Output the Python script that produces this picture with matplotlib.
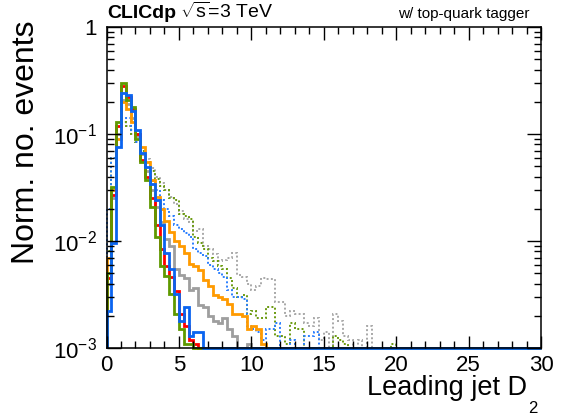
import numpy as np
import matplotlib
matplotlib.use("Agg")
import matplotlib.pyplot as plt
from matplotlib.ticker import MultipleLocator, FixedLocator, FixedFormatter, LogLocator, NullFormatter

plt.rcParams['font.family'] = ['Liberation Sans', 'DejaVu Sans']
plt.rcParams['mathtext.fontset'] = 'custom'
plt.rcParams['mathtext.rm'] = 'Liberation Sans'
plt.rcParams['mathtext.it'] = 'Liberation Sans:italic'

# histogram binning: 90 bins of 1/3 from 0 to 30
n_bins = 90
x_lo, x_hi = 0, 30

# normalised bin contents (first bins only, rest empty)
red_solid = [0.0045, 0.027, 0.12, 0.28, 0.22, 0.17, 0.10, 0.057, 0.040, 0.025,
             0.014, 0.0085, 0.0058, 0.0046, 0.0034, 0.0021, 0.0016, 0.0012, 0.0011]
green_solid = [0.005, 0.032, 0.13, 0.30, 0.21, 0.18, 0.09, 0.055, 0.037, 0.021,
               0.011, 0.0058, 0.0047, 0.0032, 0.0021, 0.0015, 0.0011, 0.0011]
blue_solid = [0.0022, 0.0095, 0.075, 0.24, 0.23, 0.165, 0.11, 0.066, 0.049, 0.034,
              0.024, 0.014, 0.0078, 0.0055, 0.0032, 0.0018, 0.0024, 0.0013, 0.0014, 0.0014]
orange_solid = [0.007, 0.03, 0.09, 0.20, 0.17, 0.13, 0.10, 0.075, 0.055, 0.037,
                0.026, 0.020, 0.0155, 0.0122, 0.010, 0.009, 0.0078, 0.0061, 0.0058, 0.0054,
                0.0043, 0.0038, 0.0031, 0.0030, 0.0029, 0.0026, 0.0021, 0.0021, 0.0020, 0.0015,
                0.0016, 0.0015, 0.0011]
gray_solid = [0.004, 0.025, 0.10, 0.21, 0.19, 0.14, 0.095, 0.065, 0.045, 0.030,
              0.021, 0.015, 0.0105, 0.009, 0.0055, 0.0048, 0.0045, 0.0035, 0.0036, 0.0025,
              0.0024, 0.0020, 0.0018, 0.0017, 0.0019, 0.0015, 0.0013, 0, 0, 0.0011]
blue_dotted = [0.020, 0.060, 0.11, 0.14, 0.14, 0.11, 0.085, 0.065, 0.045, 0.036,
               0.030, 0.024, 0.020, 0.017, 0.014, 0.013, 0.012, 0.011, 0.0085, 0.0078,
               0.0072, 0.0060, 0.0055, 0.0050, 0.0046, 0.0035, 0.0030, 0.0030, 0.0029, 0.0016,
               0.0015, 0.0014, 0.0012, 0.0015, 0.0015, 0.0017, 0.0010, 0.0008, 0.0012, 0,
               0, 0.0013, 0.0013, 0.0014]
green_dotted = [0.008, 0.06, 0.12, 0.13, 0.12, 0.10, 0.085, 0.07, 0.055, 0.045,
                0.038, 0.033, 0.030, 0.025, 0.024, 0.018, 0.017, 0.016, 0.011, 0.0095,
                0.0084, 0.0070, 0.0065, 0.0058, 0.0055, 0.0045, 0.0036, 0.0030, 0.0031, 0.0021,
                0.0022, 0.0019, 0.0019, 0.0024, 0.0024, 0.0013, 0.0013, 0.0011, 0.0017, 0.0015,
                0.0015, 0.0008, 0, 0, 0, 0, 0, 0.0013, 0.0012, 0.0011,
                0, 0, 0, 0, 0, 0, 0, 0, 0, 0.0011]
gray_dotted = [0.005, 0.03, 0.09, 0.14, 0.12, 0.10, 0.085, 0.07, 0.058, 0.048,
               0.040, 0.035, 0.030, 0.026, 0.022, 0.019, 0.016, 0.015, 0.0125, 0.013,
               0.009, 0.0085, 0.0075, 0.0065, 0.0067, 0.0070, 0.0078, 0.0048, 0.0046, 0.0040,
               0.0035, 0.0038, 0.0045, 0.0044, 0.0044, 0.0027, 0.0027, 0.0020, 0.0022, 0.0021,
               0.0021, 0.0017, 0.0016, 0.0019, 0.0012, 0.0014, 0.0010, 0.0021, 0.0018, 0.0013,
               0.0012, 0.0009, 0.0012, 0.0009, 0.0016]

y_min, y_max = 1e-3, 1.0
edges = np.linspace(x_lo, x_hi, n_bins + 1)


def full(vals):
    v = np.zeros(n_bins)
    v[:len(vals)] = vals
    # empty bins sit on the lower frame, like ROOT does on a log axis
    return np.clip(v, y_min, None)


fig = plt.figure(figsize=(5.64, 4.2), dpi=100)
ax = fig.add_axes([106.5 / 564, 1 - 348 / 420, (541 - 106.5) / 564, (348 - 27) / 420])

# dotted histograms first, then the solid ones, blue on top
dotted = [(gray_dotted, '#a8a8a8'), (green_dotted, '#6a9a10'), (blue_dotted, '#2a7fff')]
for vals, col in dotted:
    ax.stairs(full(vals), edges, baseline=y_min, color=col, lw=1.4, ls=(0, (1, 1.2)), clip_on=False)

solid = [(gray_solid, '#9e9e9e'), (orange_solid, '#ff9a00'), (red_solid, '#ff0000'),
         (green_solid, '#5f9900'), (blue_solid, '#0a64f0')]
for vals, col in solid:
    ax.stairs(full(vals), edges, baseline=y_min, color=col, lw=2.0, clip_on=False)

ax.set_yscale('log')
ax.set_xlim(x_lo, x_hi)
ax.set_ylim(y_min, y_max)

ax.xaxis.set_major_locator(MultipleLocator(5))
ax.xaxis.set_minor_locator(MultipleLocator(1))
ax.yaxis.set_major_locator(FixedLocator([1e-3, 1e-2, 1e-1, 1]))
ax.yaxis.set_major_formatter(FixedFormatter([r'$10^{-3}$', r'$10^{-2}$', r'$10^{-1}$', '1']))
ax.yaxis.set_minor_locator(LogLocator(base=10, subs=np.arange(2, 10), numticks=20))
ax.yaxis.set_minor_formatter(NullFormatter())

ax.tick_params(which='both', direction='in', top=True, right=True, width=1.0, colors='black')
ax.tick_params(which='major', length=10, labelsize=16)
ax.tick_params(which='minor', length=5)
ax.tick_params(axis='x', which='major', length=9, pad=5)
ax.tick_params(axis='y', which='major', pad=7)
for s in ax.spines.values():
    s.set_linewidth(1.1)

fig.text(107 / 564, 1 - 18 / 420, 'CLICdp', fontsize=14, fontweight='bold', va='baseline')
fig.text(180 / 564, 1 - 18 / 420, r'$\sqrt{\mathrm{s}}$=3 TeV', fontsize=14, va='baseline')
fig.text(530 / 564, 1 - 18 / 420, 'w/ top-quark tagger', fontsize=11, ha='right', va='baseline')

fig.text(527 / 564, 1 - 395 / 420, 'Leading jet D', fontsize=19.5, ha='right', va='baseline')
fig.text(528 / 564, 1 - 413 / 420, '2', fontsize=12, ha='left', va='baseline')
fig.text(11 / 564, 1 - 21 / 420, 'Norm. no. events', fontsize=23, rotation=90,
         ha='left', va='top')

fig.savefig('out.png', dpi=100)
